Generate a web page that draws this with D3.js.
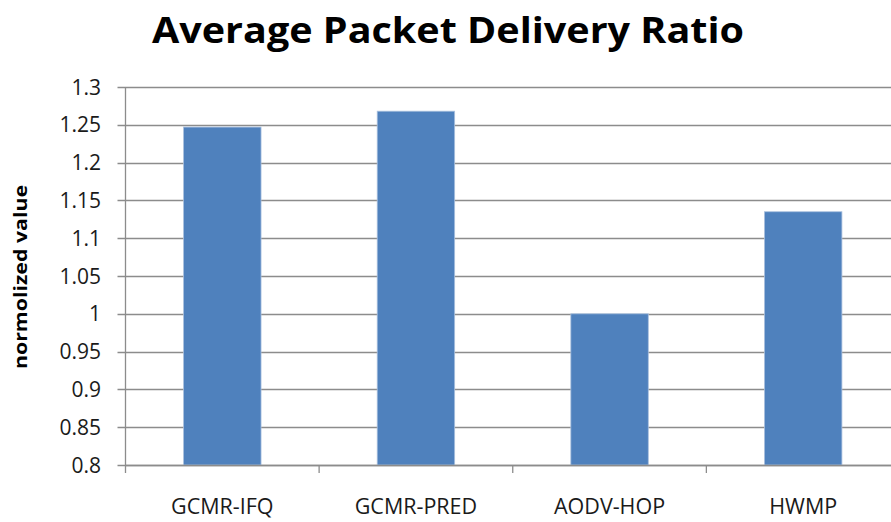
<!DOCTYPE html>
<html>
<head>
<meta charset="utf-8">
<script src="https://cdn.jsdelivr.net/npm/d3@7/dist/d3.min.js"></script>
<style>
body{margin:0;background:#fff;}
text{font-family:"Open Sans",sans-serif;}
</style>
</head>
<body>
<div id="chart"></div>
<script>
var categories = ["GCMR-IFQ","GCMR-PRED","AODV-HOP","HWMP"];
var values = [1.247, 1.268, 1.0, 1.135];
var y_ticks = [0.8,0.85,0.9,0.95,1,1.05,1.1,1.15,1.2,1.25,1.3];

var width = 891, height = 522;
var left = 125.5, right = 900, top_y = 87, bottom_y = 465;

var svg = d3.select("#chart").append("svg")
			.attr("width",width)
			.attr("height",height);

var x = d3.scaleBand()
		  .domain(categories)
		  .range([left,right])
		  .paddingInner(0.6)
		  .paddingOuter(0.3);

var y = d3.scaleLinear()
		  .domain([0.8,1.3])
		  .range([bottom_y,top_y]);

// gridlines
svg.append("g")
   .selectAll("line")
   .data(y_ticks)
   .enter()
   .append("line")
   .attr("x1",left-8)
   .attr("x2",width)
   .attr("y1",function(d){return Math.round(y(d))+0.5;})
   .attr("y2",function(d){return Math.round(y(d))+0.5;})
   .attr("stroke","#8c8c8c")
   .attr("stroke-width",1.3);

// y tick labels
svg.append("g")
   .selectAll("text")
   .data(y_ticks)
   .enter()
   .append("text")
   .attr("x",101)
   .attr("y",function(d){return y(d)+7.5;})
   .attr("text-anchor","end")
   .attr("font-size",21)
   .attr("fill","#1a1a1a")
   .text(function(d){return d;});

// bars
svg.append("g")
   .selectAll("rect")
   .data(values)
   .enter()
   .append("rect")
   .attr("x",function(d,i){return x(categories[i]);})
   .attr("y",function(d){return y(d);})
   .attr("width",x.bandwidth())
   .attr("height",function(d){return y(0.8)-y(d);})
   .attr("fill","#4f81bd")
   .attr("stroke","#a9c0de")
   .attr("stroke-width",0.8);

// y axis line
svg.append("line")
   .attr("x1",left).attr("x2",left)
   .attr("y1",top_y).attr("y2",bottom_y+8)
   .attr("stroke","#8c8c8c")
   .attr("stroke-width",1.3);

// x axis line + ticks between categories
svg.append("line")
   .attr("x1",left).attr("x2",width)
   .attr("y1",bottom_y+0.5).attr("y2",bottom_y+0.5)
   .attr("stroke","#8c8c8c")
   .attr("stroke-width",1.3);

var step = x.step();
svg.append("g")
   .selectAll("line")
   .data(categories.slice(1))
   .enter()
   .append("line")
   .attr("x1",function(d){return x(d) - step*0.3;})
   .attr("x2",function(d){return x(d) - step*0.3;})
   .attr("y1",bottom_y)
   .attr("y2",bottom_y+8)
   .attr("stroke","#8c8c8c")
   .attr("stroke-width",1.3);

// category labels
svg.append("g")
   .selectAll("text")
   .data(categories)
   .enter()
   .append("text")
   .attr("x",function(d){return x(d)+x.bandwidth()/2;})
   .attr("y",514)
   .attr("text-anchor","middle")
   .attr("font-size",21.5)
   .attr("fill","#1a1a1a")
   .text(function(d){return d;});

// y axis title
svg.append("text")
   .attr("transform","translate(27,277) rotate(-90)")
   .attr("text-anchor","middle")
   .attr("font-size",17)
   .attr("font-weight","bold")
   .attr("fill","#000")
   .attr("textLength",184)
   .attr("lengthAdjust","spacingAndGlyphs")
   .text("normolized value");

// title
svg.append("text")
   .attr("x",448)
   .attr("y",43)
   .attr("text-anchor","middle")
   .attr("font-size",36)
   .attr("font-weight","bold")
   .attr("fill","#000")
   .attr("textLength",592)
   .attr("lengthAdjust","spacingAndGlyphs")
   .text("Average Packet Delivery Ratio");
</script>
</body>
</html>
